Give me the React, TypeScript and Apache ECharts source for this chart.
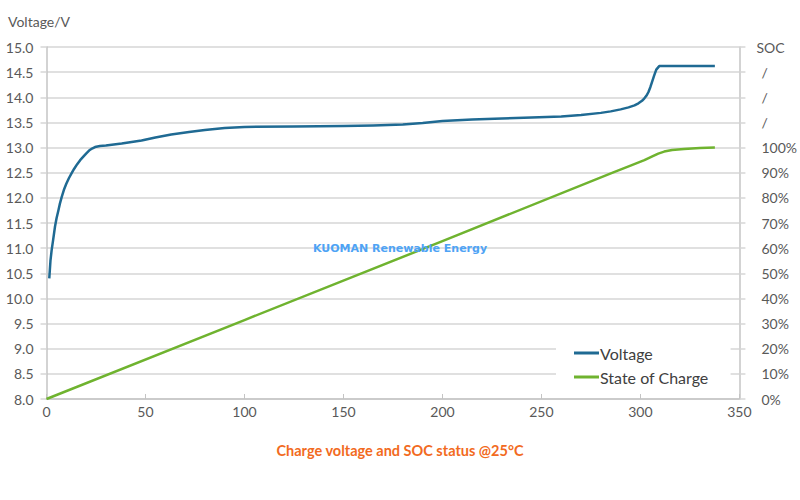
import { useEffect, useRef } from 'react';
import * as echarts from 'echarts';

// charge voltage curve: [time, volts]
const voltagePoints: [number, number][] = [
  [1.4, 10.4], [2, 10.75], [2.6, 10.96], [3.3, 11.15], [4.3, 11.43], [5.1, 11.6], [6, 11.75],
  [6.8, 11.89], [7.7, 12.02], [8.8, 12.16], [10, 12.28], [11.3, 12.39], [12.7, 12.49],
  [14, 12.58], [15.5, 12.67], [17, 12.75], [18.6, 12.82], [20, 12.88], [21.5, 12.94],
  [23, 12.98], [24.5, 13.01], [27, 13.03], [30, 13.04], [34, 13.06], [38, 13.08],
  [43, 13.11], [48, 13.14], [55, 13.2], [63, 13.26], [72, 13.31], [80, 13.35],
  [90, 13.39], [100, 13.41], [125, 13.42], [150, 13.43], [165, 13.44], [180, 13.46],
  [190, 13.49], [200, 13.53], [215, 13.56], [230, 13.58], [245, 13.6], [260, 13.62],
  [270, 13.65], [280, 13.69], [285, 13.72], [290, 13.76], [294, 13.8], [297, 13.84],
  [299, 13.88], [300.8, 13.93], [302, 13.98], [303, 14.03], [304, 14.1], [305, 14.2],
  [306, 14.32], [307, 14.44], [308, 14.55], [309.5, 14.62], [320, 14.62], [337.6, 14.62],
];

// state of charge: [time, percent]
const socPoints: [number, number][] = [
  [0, 0], [100, 31.4], [200, 62.8], [286, 90], [295, 92.8], [302, 95],
  [306, 96.5], [309, 97.6], [312, 98.4], [316, 99], [322, 99.4], [330, 99.8], [337.6, 100],
];

const seriesNames = ['Voltage', 'State of Charge'];
const chartTitle = 'Charge voltage and SOC status @25°C';
const watermark = 'KUOMAN Renewable Energy';

const tickColor = '#595959';
const gridColor = '#d6d6d6';
const axisColor = '#c4c4c4';

export default function App() {
  const chartRef = useRef<HTMLDivElement>(null);

  useEffect(() => {
    if (!chartRef.current) return;
    const chart = echarts.init(chartRef.current, undefined, { renderer: 'svg' });

    const option: echarts.EChartsOption = {
      animation: false,
      backgroundColor: '#fff',
      textStyle: { fontFamily: 'Lato' },
      title: {
        text: chartTitle,
        left: 'center',
        top: 438,
        textStyle: { color: '#f26a21', fontSize: 14.5, fontWeight: 'bold', fontFamily: 'Lato' },
      },
      grid: { left: 46.5, right: 60.5, top: 47, bottom: 101 },
      legend: {
        data: seriesNames,
        orient: 'vertical',
        left: 556,
        top: 339,
        padding: [6, 22, 6, 18],
        backgroundColor: '#fff',
        itemGap: 8,
        itemWidth: 25,
        itemHeight: 3,
        icon: 'rect',
        selectedMode: false,
        textStyle: { color: '#404040', fontSize: 16, fontFamily: 'Lato', padding: [0, 0, 0, -4] },
        z: 10,
      },
      xAxis: {
        type: 'value',
        min: 0,
        max: 350,
        interval: 50,
        axisLine: { show: true, lineStyle: { color: axisColor, width: 1.5 } },
        axisTick: { show: true, inside: true, length: 5, lineStyle: { color: axisColor } },
        axisLabel: { color: tickColor, fontSize: 14, margin: 5 },
        splitLine: { show: false },
      },
      yAxis: [
        {
          type: 'value',
          min: 8,
          max: 15,
          interval: 0.5,
          axisLine: { show: true, lineStyle: { color: axisColor, width: 1.5 } },
          axisTick: { show: true, length: 6, lineStyle: { color: gridColor, width: 1.5 } },
          axisLabel: { color: tickColor, fontSize: 14, margin: 13, formatter: (v: number) => v.toFixed(1) },
          splitLine: { show: true, lineStyle: { color: gridColor, width: 1.5 } },
        },
        {
          type: 'value',
          position: 'right',
          min: 0,
          max: 140,
          interval: 10,
          axisLine: { show: true, lineStyle: { color: axisColor, width: 1.5 } },
          axisTick: { show: true, length: 6, lineStyle: { color: gridColor, width: 1.5 } },
          axisLabel: {
            color: tickColor,
            fontSize: 14,
            margin: 17,
            formatter: (v: number) => {
              if (v === 140) return 'SOC';
              if (v <= 100) return `{p|${v}%}`;
              return '{p|/}';
            },
            rich: { p: { padding: [0, 0, 0, 5], fontSize: 14, color: tickColor } },
          },
          splitLine: { show: false },
        },
      ],
      graphic: [
        {
          type: 'text',
          left: 8,
          top: 14,
          style: { text: 'Voltage/V', fill: tickColor, font: '14px Lato' },
        },
        {
          type: 'text',
          left: 'center',
          top: 243,
          z: 20,
          style: {
            text: watermark,
            fill: '#4ea3f5',
            font: 'bold 11px "DejaVu Sans"',
          },
        },
      ],
      series: [
        {
          name: seriesNames[0],
          type: 'line',
          yAxisIndex: 0,
          data: voltagePoints,
          showSymbol: false,
          smooth: false,
          lineStyle: { color: '#1f6a93', width: 2.5, join: 'round' },
          itemStyle: { color: '#1f6a93' },
        },
        {
          name: seriesNames[1],
          type: 'line',
          yAxisIndex: 1,
          data: socPoints,
          showSymbol: false,
          smooth: false,
          lineStyle: { color: '#6fb32f', width: 2.5, join: 'round' },
          itemStyle: { color: '#6fb32f' },
        },
      ],
    };

    chart.setOption(option);
    return () => chart.dispose();
  }, []);

  return (
    <div
      ref={chartRef}
      style={{ position: 'fixed', left: 0, top: 0, width: 800, height: 500 }}
    />
  );
}
